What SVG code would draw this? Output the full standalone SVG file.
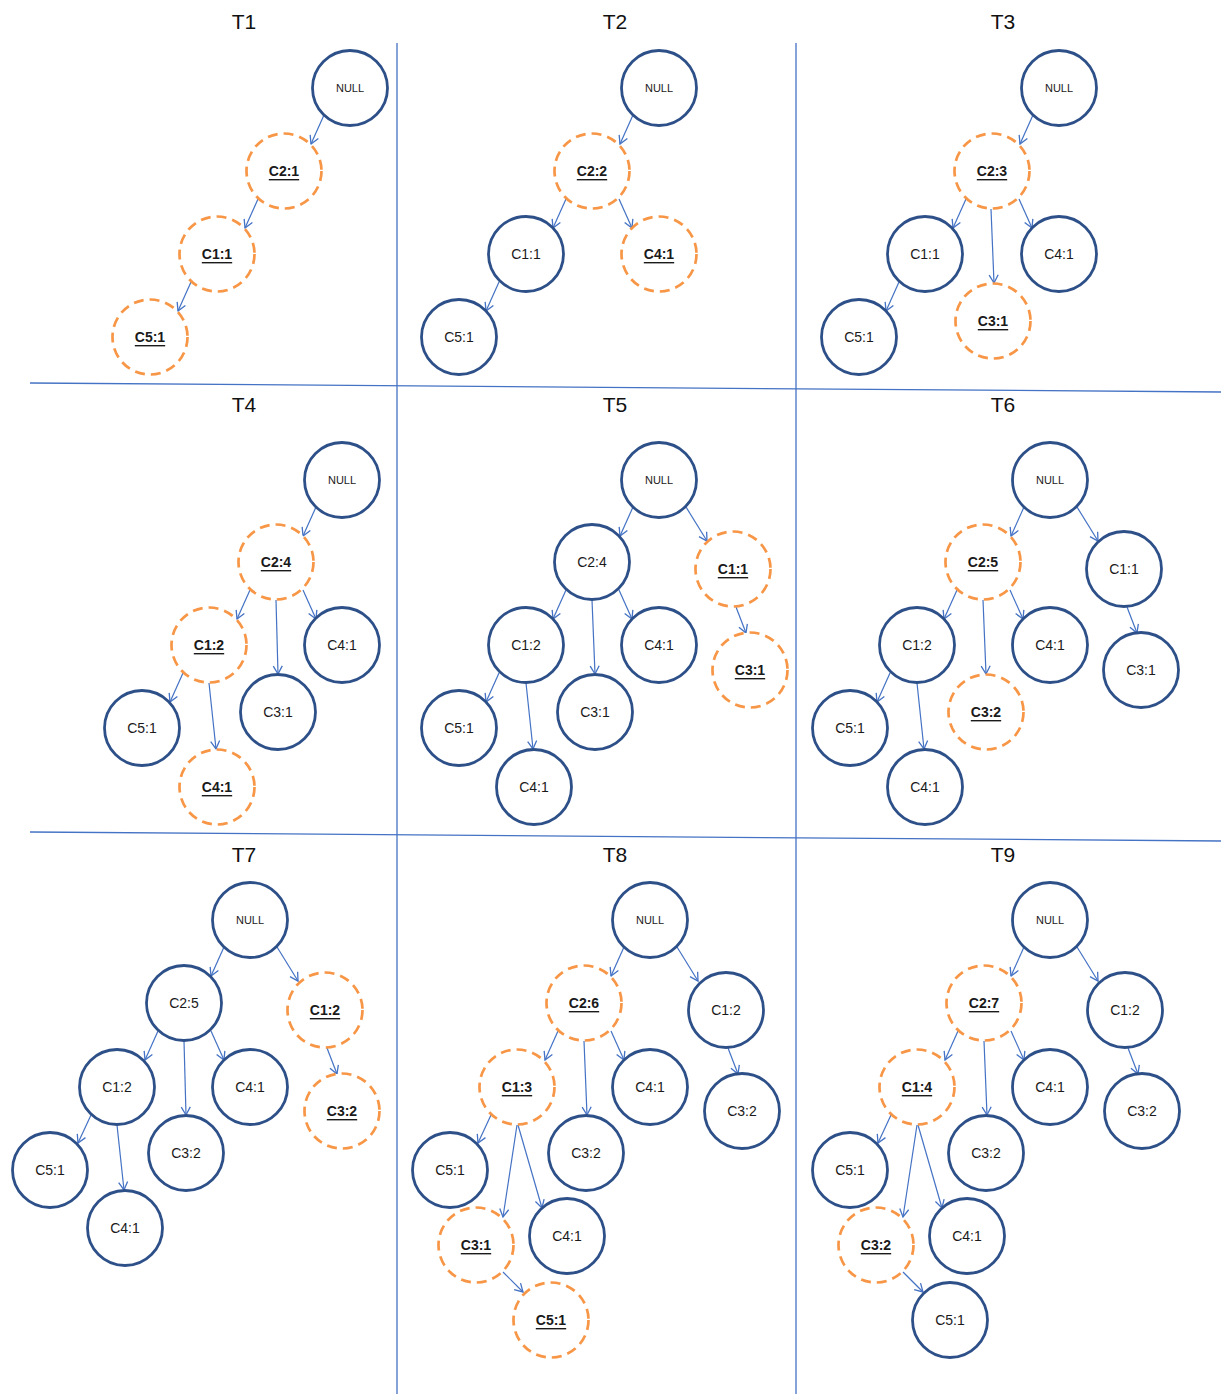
<svg xmlns="http://www.w3.org/2000/svg" width="1221" height="1394" viewBox="0 0 1221 1394">
<style>
.n{fill:#fff;stroke:#2E5089;stroke-width:2.8}
.o{fill:#fff;stroke:#F79646;stroke-width:2.7;stroke-dasharray:10 6}
.t{font-family:"Liberation Sans",Arial,sans-serif;font-size:14px;fill:#1a1a1a;text-anchor:middle;dominant-baseline:central}
.b{font-weight:bold;text-decoration:underline}
.s{font-size:11px}
.h{font-family:"Liberation Sans",Arial,sans-serif;font-size:21px;fill:#111;text-anchor:middle}
.e line{stroke:#4472C4;stroke-width:1.2;marker-end:url(#a)}
.g{stroke:#4472C4;stroke-width:1.3;fill:none}
</style>
<defs>
<marker id="a" markerUnits="userSpaceOnUse" markerWidth="12" markerHeight="12" refX="9" refY="5" orient="auto" viewBox="0 0 12 10">
<path d="M1,0.5 L9,5 L1,9.5" fill="none" stroke="#4472C4" stroke-width="1.3"/>
</marker>
</defs>
<g id="grid">
<line class="g" x1="397" y1="43" x2="397" y2="1394"/>
<line class="g" x1="796" y1="43" x2="796" y2="1394"/>
<line class="g" x1="30" y1="383" x2="1221" y2="392"/>
<line class="g" x1="30" y1="832" x2="1221" y2="841"/>
</g>
<g id="titles">
<text class="h" x="244" y="29">T1</text>
<text class="h" x="615" y="29">T2</text>
<text class="h" x="1003" y="29">T3</text>
<text class="h" x="244" y="412">T4</text>
<text class="h" x="615" y="412">T5</text>
<text class="h" x="1003" y="412">T6</text>
<text class="h" x="244" y="862">T7</text>
<text class="h" x="615" y="862">T8</text>
<text class="h" x="1003" y="862">T9</text>
</g>
<g id="connectors" class="e">
<line x1="324" y1="115" x2="311" y2="144"/>
<line x1="258" y1="199" x2="245" y2="228"/>
<line x1="191" y1="282" x2="178" y2="311"/>

<line x1="633" y1="115" x2="620" y2="144"/>
<line x1="566" y1="199" x2="553" y2="228"/>
<line x1="619" y1="199" x2="632" y2="228"/>
<line x1="499" y1="282" x2="486" y2="311"/>

<line x1="1033" y1="115" x2="1020" y2="144"/>
<line x1="966" y1="199" x2="953" y2="228"/>
<line x1="1019" y1="199" x2="1032" y2="228"/>
<line x1="991" y1="209" x2="994" y2="283"/>
<line x1="899" y1="282" x2="886" y2="311"/>

<line x1="316" y1="507" x2="303" y2="536"/>
<line x1="250" y1="590" x2="237" y2="619"/>
<line x1="303" y1="590" x2="316" y2="619"/>
<line x1="276" y1="600" x2="278" y2="674"/>
<line x1="183" y1="673" x2="170" y2="702"/>
<line x1="209" y1="683" x2="216" y2="749"/>

<line x1="633" y1="507" x2="620" y2="536"/>
<line x1="686" y1="507" x2="707" y2="541"/>
<line x1="566" y1="590" x2="553" y2="619"/>
<line x1="619" y1="590" x2="632" y2="619"/>
<line x1="592" y1="600" x2="595" y2="674"/>
<line x1="736" y1="607" x2="746" y2="633"/>
<line x1="499" y1="673" x2="486" y2="702"/>
<line x1="526" y1="683" x2="533" y2="749"/>

<line x1="1024" y1="507" x2="1011" y2="536"/>
<line x1="1077" y1="507" x2="1098" y2="541"/>
<line x1="957" y1="590" x2="944" y2="619"/>
<line x1="1010" y1="590" x2="1023" y2="619"/>
<line x1="983" y1="600" x2="986" y2="674"/>
<line x1="1127" y1="607" x2="1137" y2="633"/>
<line x1="890" y1="673" x2="877" y2="702"/>
<line x1="917" y1="683" x2="924" y2="749"/>

<line x1="224" y1="947" x2="211" y2="976"/>
<line x1="277" y1="947" x2="298" y2="981"/>
<line x1="158" y1="1031" x2="145" y2="1060"/>
<line x1="211" y1="1031" x2="224" y2="1060"/>
<line x1="184" y1="1041" x2="186" y2="1115"/>
<line x1="327" y1="1048" x2="337" y2="1074"/>
<line x1="91" y1="1115" x2="78" y2="1143"/>
<line x1="117" y1="1125" x2="124" y2="1190"/>

<line x1="624" y1="947" x2="611" y2="976"/>
<line x1="677" y1="947" x2="698" y2="981"/>
<line x1="558" y1="1031" x2="545" y2="1060"/>
<line x1="611" y1="1031" x2="624" y2="1060"/>
<line x1="584" y1="1041" x2="587" y2="1115"/>
<line x1="728" y1="1048" x2="738" y2="1074"/>
<line x1="491" y1="1115" x2="478" y2="1143"/>
<line x1="517" y1="1125" x2="503" y2="1217"/>
<line x1="518" y1="1125" x2="542" y2="1208"/>
<line x1="503" y1="1272" x2="523" y2="1292"/>

<line x1="1024" y1="947" x2="1011" y2="976"/>
<line x1="1077" y1="947" x2="1098" y2="981"/>
<line x1="958" y1="1031" x2="945" y2="1060"/>
<line x1="1011" y1="1031" x2="1024" y2="1060"/>
<line x1="984" y1="1041" x2="987" y2="1115"/>
<line x1="1128" y1="1048" x2="1138" y2="1074"/>
<line x1="891" y1="1115" x2="878" y2="1143"/>
<line x1="917" y1="1125" x2="903" y2="1217"/>
<line x1="918" y1="1125" x2="942" y2="1208"/>
<line x1="903" y1="1272" x2="923" y2="1292"/>
</g>

<g id="t1">
<g id="t1-null"><circle class="n" cx="350" cy="88" r="37.5"/><text class="t s" x="350" y="88">NULL</text></g>
<g id="t1-c2"><circle class="o" cx="284" cy="171" r="37.5"/><text class="t b" x="284" y="171">C2:1</text></g>
<g id="t1-c1"><circle class="o" cx="217" cy="254" r="37.5"/><text class="t b" x="217" y="254">C1:1</text></g>
<g id="t1-c5"><circle class="o" cx="150" cy="337" r="37.5"/><text class="t b" x="150" y="337">C5:1</text></g>
</g>

<g id="t2">
<g id="t2-null"><circle class="n" cx="659" cy="88" r="37.5"/><text class="t s" x="659" y="88">NULL</text></g>
<g id="t2-c2"><circle class="o" cx="592" cy="171" r="37.5"/><text class="t b" x="592" y="171">C2:2</text></g>
<g id="t2-c1"><circle class="n" cx="526" cy="254" r="37.5"/><text class="t" x="526" y="254">C1:1</text></g>
<g id="t2-c4"><circle class="o" cx="659" cy="254" r="37.5"/><text class="t b" x="659" y="254">C4:1</text></g>
<g id="t2-c5"><circle class="n" cx="459" cy="337" r="37.5"/><text class="t" x="459" y="337">C5:1</text></g>
</g>

<g id="t3">
<g id="t3-null"><circle class="n" cx="1059" cy="88" r="37.5"/><text class="t s" x="1059" y="88">NULL</text></g>
<g id="t3-c2"><circle class="o" cx="992" cy="171" r="37.5"/><text class="t b" x="992" y="171">C2:3</text></g>
<g id="t3-c1"><circle class="n" cx="925" cy="254" r="37.5"/><text class="t" x="925" y="254">C1:1</text></g>
<g id="t3-c4"><circle class="n" cx="1059" cy="254" r="37.5"/><text class="t" x="1059" y="254">C4:1</text></g>
<g id="t3-c3"><circle class="o" cx="993" cy="321" r="37.5"/><text class="t b" x="993" y="321">C3:1</text></g>
<g id="t3-c5"><circle class="n" cx="859" cy="337" r="37.5"/><text class="t" x="859" y="337">C5:1</text></g>
</g>

<g id="t4">
<g id="t4-null"><circle class="n" cx="342" cy="480" r="37.5"/><text class="t s" x="342" y="480">NULL</text></g>
<g id="t4-c2"><circle class="o" cx="276" cy="562" r="37.5"/><text class="t b" x="276" y="562">C2:4</text></g>
<g id="t4-c1"><circle class="o" cx="209" cy="645" r="37.5"/><text class="t b" x="209" y="645">C1:2</text></g>
<g id="t4-c4"><circle class="n" cx="342" cy="645" r="37.5"/><text class="t" x="342" y="645">C4:1</text></g>
<g id="t4-c3"><circle class="n" cx="278" cy="712" r="37.5"/><text class="t" x="278" y="712">C3:1</text></g>
<g id="t4-c5"><circle class="n" cx="142" cy="728" r="37.5"/><text class="t" x="142" y="728">C5:1</text></g>
<g id="t4-c4b"><circle class="o" cx="217" cy="787" r="37.5"/><text class="t b" x="217" y="787">C4:1</text></g>
</g>

<g id="t5">
<g id="t5-null"><circle class="n" cx="659" cy="480" r="37.5"/><text class="t s" x="659" y="480">NULL</text></g>
<g id="t5-c2"><circle class="n" cx="592" cy="562" r="37.5"/><text class="t" x="592" y="562">C2:4</text></g>
<g id="t5-c1r"><circle class="o" cx="733" cy="569" r="37.5"/><text class="t b" x="733" y="569">C1:1</text></g>
<g id="t5-c1"><circle class="n" cx="526" cy="645" r="37.5"/><text class="t" x="526" y="645">C1:2</text></g>
<g id="t5-c4"><circle class="n" cx="659" cy="645" r="37.5"/><text class="t" x="659" y="645">C4:1</text></g>
<g id="t5-c3"><circle class="n" cx="595" cy="712" r="37.5"/><text class="t" x="595" y="712">C3:1</text></g>
<g id="t5-c3r"><circle class="o" cx="750" cy="670" r="37.5"/><text class="t b" x="750" y="670">C3:1</text></g>
<g id="t5-c5"><circle class="n" cx="459" cy="728" r="37.5"/><text class="t" x="459" y="728">C5:1</text></g>
<g id="t5-c4b"><circle class="n" cx="534" cy="787" r="37.5"/><text class="t" x="534" y="787">C4:1</text></g>
</g>

<g id="t6">
<g id="t6-null"><circle class="n" cx="1050" cy="480" r="37.5"/><text class="t s" x="1050" y="480">NULL</text></g>
<g id="t6-c2"><circle class="o" cx="983" cy="562" r="37.5"/><text class="t b" x="983" y="562">C2:5</text></g>
<g id="t6-c1r"><circle class="n" cx="1124" cy="569" r="37.5"/><text class="t" x="1124" y="569">C1:1</text></g>
<g id="t6-c1"><circle class="n" cx="917" cy="645" r="37.5"/><text class="t" x="917" y="645">C1:2</text></g>
<g id="t6-c4"><circle class="n" cx="1050" cy="645" r="37.5"/><text class="t" x="1050" y="645">C4:1</text></g>
<g id="t6-c3"><circle class="o" cx="986" cy="712" r="37.5"/><text class="t b" x="986" y="712">C3:2</text></g>
<g id="t6-c3r"><circle class="n" cx="1141" cy="670" r="37.5"/><text class="t" x="1141" y="670">C3:1</text></g>
<g id="t6-c5"><circle class="n" cx="850" cy="728" r="37.5"/><text class="t" x="850" y="728">C5:1</text></g>
<g id="t6-c4b"><circle class="n" cx="925" cy="787" r="37.5"/><text class="t" x="925" y="787">C4:1</text></g>
</g>

<g id="t7">
<g id="t7-null"><circle class="n" cx="250" cy="920" r="37.5"/><text class="t s" x="250" y="920">NULL</text></g>
<g id="t7-c2"><circle class="n" cx="184" cy="1003" r="37.5"/><text class="t" x="184" y="1003">C2:5</text></g>
<g id="t7-c1r"><circle class="o" cx="325" cy="1010" r="37.5"/><text class="t b" x="325" y="1010">C1:2</text></g>
<g id="t7-c1"><circle class="n" cx="117" cy="1087" r="37.5"/><text class="t" x="117" y="1087">C1:2</text></g>
<g id="t7-c4"><circle class="n" cx="250" cy="1087" r="37.5"/><text class="t" x="250" y="1087">C4:1</text></g>
<g id="t7-c3"><circle class="n" cx="186" cy="1153" r="37.5"/><text class="t" x="186" y="1153">C3:2</text></g>
<g id="t7-c3r"><circle class="o" cx="342" cy="1111" r="37.5"/><text class="t b" x="342" y="1111">C3:2</text></g>
<g id="t7-c5"><circle class="n" cx="50" cy="1170" r="37.5"/><text class="t" x="50" y="1170">C5:1</text></g>
<g id="t7-c4b"><circle class="n" cx="125" cy="1228" r="37.5"/><text class="t" x="125" y="1228">C4:1</text></g>
</g>

<g id="t8">
<g id="t8-null"><circle class="n" cx="650" cy="920" r="37.5"/><text class="t s" x="650" y="920">NULL</text></g>
<g id="t8-c2"><circle class="o" cx="584" cy="1003" r="37.5"/><text class="t b" x="584" y="1003">C2:6</text></g>
<g id="t8-c1r"><circle class="n" cx="726" cy="1010" r="37.5"/><text class="t" x="726" y="1010">C1:2</text></g>
<g id="t8-c1"><circle class="o" cx="517" cy="1087" r="37.5"/><text class="t b" x="517" y="1087">C1:3</text></g>
<g id="t8-c4"><circle class="n" cx="650" cy="1087" r="37.5"/><text class="t" x="650" y="1087">C4:1</text></g>
<g id="t8-c3"><circle class="n" cx="586" cy="1153" r="37.5"/><text class="t" x="586" y="1153">C3:2</text></g>
<g id="t8-c3r"><circle class="n" cx="742" cy="1111" r="37.5"/><text class="t" x="742" y="1111">C3:2</text></g>
<g id="t8-c5"><circle class="n" cx="450" cy="1170" r="37.5"/><text class="t" x="450" y="1170">C5:1</text></g>
<g id="t8-c4b"><circle class="n" cx="567" cy="1236" r="37.5"/><text class="t" x="567" y="1236">C4:1</text></g>
<g id="t8-c3b"><circle class="o" cx="476" cy="1245" r="37.5"/><text class="t b" x="476" y="1245">C3:1</text></g>
<g id="t8-c5b"><circle class="o" cx="551" cy="1320" r="37.5"/><text class="t b" x="551" y="1320">C5:1</text></g>
</g>

<g id="t9">
<g id="t9-null"><circle class="n" cx="1050" cy="920" r="37.5"/><text class="t s" x="1050" y="920">NULL</text></g>
<g id="t9-c2"><circle class="o" cx="984" cy="1003" r="37.5"/><text class="t b" x="984" y="1003">C2:7</text></g>
<g id="t9-c1r"><circle class="n" cx="1125" cy="1010" r="37.5"/><text class="t" x="1125" y="1010">C1:2</text></g>
<g id="t9-c1"><circle class="o" cx="917" cy="1087" r="37.5"/><text class="t b" x="917" y="1087">C1:4</text></g>
<g id="t9-c4"><circle class="n" cx="1050" cy="1087" r="37.5"/><text class="t" x="1050" y="1087">C4:1</text></g>
<g id="t9-c3"><circle class="n" cx="986" cy="1153" r="37.5"/><text class="t" x="986" y="1153">C3:2</text></g>
<g id="t9-c3r"><circle class="n" cx="1142" cy="1111" r="37.5"/><text class="t" x="1142" y="1111">C3:2</text></g>
<g id="t9-c5"><circle class="n" cx="850" cy="1170" r="37.5"/><text class="t" x="850" y="1170">C5:1</text></g>
<g id="t9-c4b"><circle class="n" cx="967" cy="1236" r="37.5"/><text class="t" x="967" y="1236">C4:1</text></g>
<g id="t9-c3b"><circle class="o" cx="876" cy="1245" r="37.5"/><text class="t b" x="876" y="1245">C3:2</text></g>
<g id="t9-c5b"><circle class="n" cx="950" cy="1320" r="37.5"/><text class="t" x="950" y="1320">C5:1</text></g>
</g>
</svg>
